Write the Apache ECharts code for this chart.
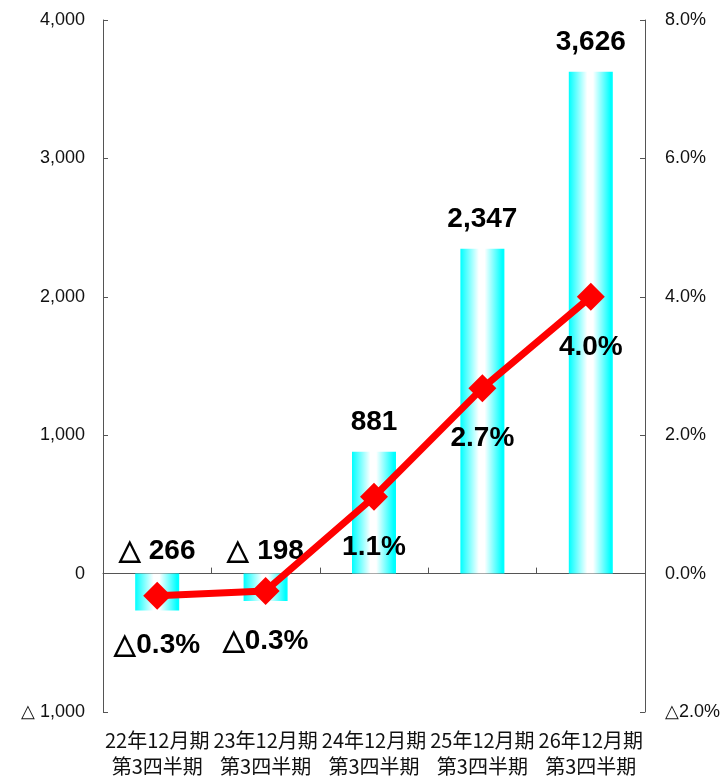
<!DOCTYPE html>
<html>
<head>
<meta charset="utf-8">
<script src="https://cdn.jsdelivr.net/npm/echarts@6/dist/echarts.min.js"></script>
<style>
  html, body { margin: 0; padding: 0; background: #fff; }
  #chart { width: 724px; height: 779px; }
</style>
</head>
<body>
<div id="chart"></div>
<script>
// categories
const categories = [
  '22年12月期\n第3四半期',
  '23年12月期\n第3四半期',
  '24年12月期\n第3四半期',
  '25年12月期\n第3四半期',
  '26年12月期\n第3四半期'
]
// bar values (left axis)
const barValues = [-266, -198, 881, 2347, 3626]
// line values in % (right axis)
const rateValues = [-0.32, -0.25, 1.11, 2.68, 4.0]

const fmtNum = v => {
  const s = Math.abs(v).toLocaleString('en-US')
  return v < 0 ? '△ ' + s : s
}
const fmtPct = v => {
  const s = Math.abs(v).toFixed(1) + '%'
  return v < 0 ? '△' + s : s
}

const axisColor = '#555'
const chart = echarts.init(document.getElementById('chart'))

chart.setOption({
  animation: false,
  grid: { left: 103, right: 79, top: 20, bottom: 64 },
  xAxis: [{
    type: 'category',
    data: categories,
    position: 'bottom',
    axisLine: { show: false, onZero: false },
    axisTick: { show: false },
    axisLabel: {
      color: '#111',
      fontSize: 20,
      lineHeight: 26,
      margin: 15,
      fontFamily: 'Noto Sans CJK JP',
      interval: 0
    }
  }, {
    type: 'category',
    data: categories,
    position: 'bottom',
    axisLine: { show: true, onZero: true, lineStyle: { color: axisColor, width: 1 } },
    axisTick: { show: true, inside: true, length: 6, lineStyle: { color: axisColor } },
    axisLabel: { show: false }
  }],
  yAxis: [{
    type: 'value',
    min: -1000,
    max: 4000,
    interval: 1000,
    axisLine: { show: true, lineStyle: { color: axisColor } },
    axisTick: { show: true, inside: true, length: 5, lineStyle: { color: axisColor } },
    splitLine: { show: false },
    axisLabel: {
      color: '#111',
      fontSize: 18,
      margin: 18,
      fontFamily: 'Liberation Sans',
      formatter: fmtNum
    }
  }, {
    type: 'value',
    min: -2,
    max: 8,
    interval: 2,
    axisLine: { show: true, lineStyle: { color: axisColor } },
    axisTick: { show: true, inside: true, length: 5, lineStyle: { color: axisColor } },
    splitLine: { show: false },
    axisLabel: {
      color: '#111',
      fontSize: 18,
      margin: 20,
      fontFamily: 'Liberation Sans',
      formatter: fmtPct
    }
  }],
  series: [{
    type: 'bar',
    xAxisIndex: 0,
    yAxisIndex: 0,
    data: barValues.map(v => v < 0
      ? { value: v, label: { distance: 8 } }
      : v),
    barWidth: 44,
    itemStyle: {
      color: new echarts.graphic.LinearGradient(0, 0, 1, 0, [
        { offset: 0, color: '#00ffff' },
        { offset: 0.42, color: '#ffffff' },
        { offset: 0.55, color: '#ffffff' },
        { offset: 0.95, color: '#00ffff' },
        { offset: 1, color: '#00ffff' }
      ])
    },
    label: {
      show: true,
      position: 'top',
      distance: 15,
      color: '#000',
      fontSize: 28,
      fontWeight: 'bold',
      fontFamily: 'Liberation Sans',
      formatter: p => fmtNum(p.value)
    }
  }, {
    type: 'line',
    xAxisIndex: 0,
    yAxisIndex: 1,
    data: rateValues,
    symbol: 'diamond',
    symbolSize: 28,
    lineStyle: { color: '#ff0000', width: 7 },
    itemStyle: { color: '#ff0000' },
    z: 5,
    label: {
      show: true,
      position: 'bottom',
      distance: 22,
      color: '#000',
      fontSize: 28,
      fontWeight: 'bold',
      fontFamily: 'Liberation Sans',
      formatter: p => fmtPct(p.value)
    }
  }]
})
</script>
</body>
</html>
